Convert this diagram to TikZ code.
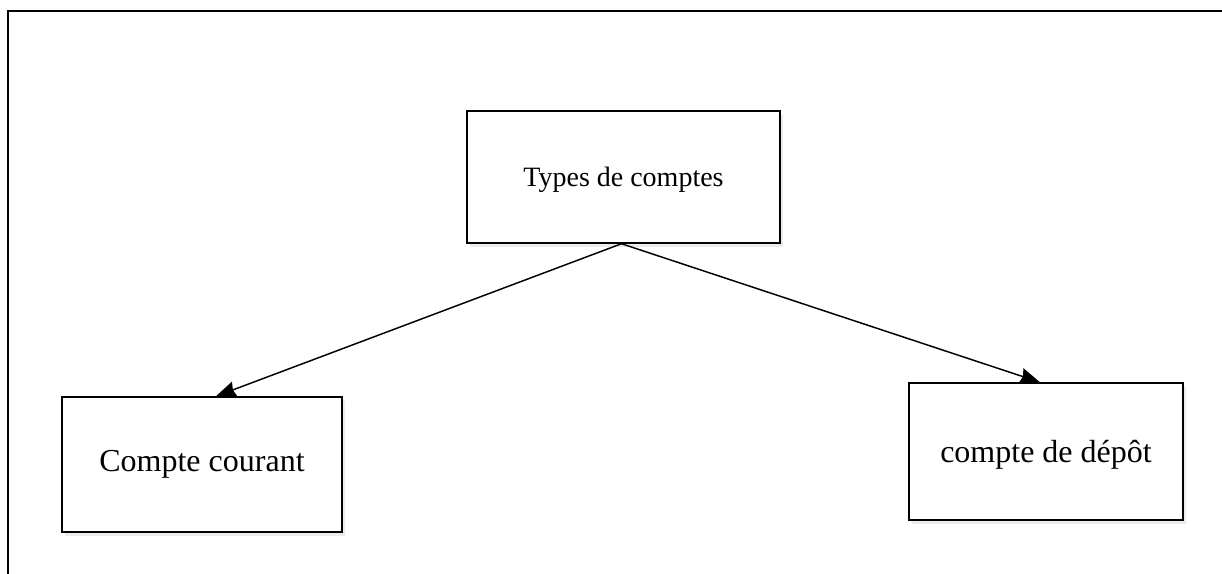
\documentclass[tikz,border=0pt]{standalone}
\usepackage{fontspec}
\setmainfont{Liberation Serif}
\usetikzlibrary{arrows.meta, shadows}

\begin{document}
\begin{tikzpicture}[
        x=0.75pt, y=-0.75pt,
        box/.style={draw=black, line width=1.1pt, fill=white, inner sep=0pt,
            drop shadow={shadow xshift=2pt, shadow yshift=-3pt, fill=black, opacity=0.08}},
        arrow/.style={-{Stealth[length=15pt, width=12pt, inset=1.5pt]}, line width=1.1pt}
    ]
        \useasboundingbox (0,0) rectangle (1222,574);

        % Outer frame
        \draw[line width=1.6pt] (8,590) -- (8,11) -- (1240,11);

        % Boxes
        \node[box, minimum width=313*0.75pt, minimum height=132*0.75pt, font=\fontsize{21}{25}\selectfont, text height=17pt, text depth=3pt] (types) at (623.5,177) {Types de comptes};
        \node[box, minimum width=280*0.75pt, minimum height=135*0.75pt, font=\fontsize{24}{28}\selectfont] (courant) at (202,464.5) {Compte courant};
        \node[box, minimum width=274*0.75pt, minimum height=137*0.75pt, font=\fontsize{24}{28}\selectfont, text height=21pt, text depth=3.8pt] (depot) at (1046,451.5) {compte de dépôt};

        % Connections
        \draw[arrow] ([xshift=-1.5pt]types.south) -- ([xshift=10.5pt]courant.north);
        \draw[arrow] ([xshift=-1.5pt]types.south) -- ([xshift=-4.5pt]depot.north);
    \end{tikzpicture}
\end{document}
